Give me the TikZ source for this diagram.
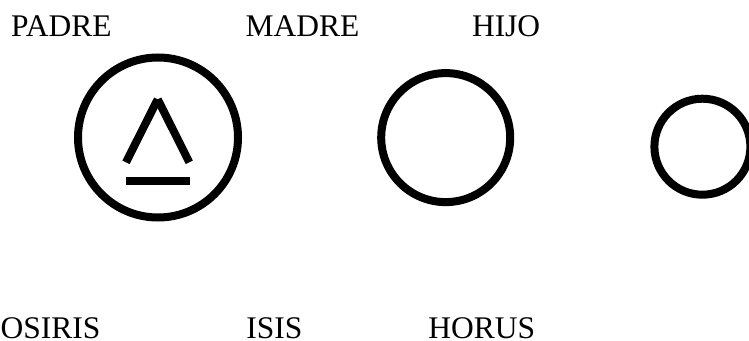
\documentclass[tikz,border=0pt]{standalone}
\usepackage{fontspec}
\setmainfont{Liberation Serif}
\begin{document}
\begin{tikzpicture}[x=1pt,y=-1pt,
  lbl/.style={anchor=base west,inner sep=0pt,outer sep=0pt,text depth=0pt,font=\fontsize{31.5}{37}\selectfont},
  ring/.style={circle,draw=black,line width=8pt,inner sep=0pt,outer sep=0pt},
  glyph/.style={draw=black,line width=8pt,line cap=butt}]
\useasboundingbox (0,0) rectangle (749,340);
\clip (0,0) rectangle (749,340);
% top labels
\node[lbl] (padre) at (11.2,36.5) {PADRE};
\node[lbl] (madre) at (245.6,36.5) {MADRE};
\node[lbl] (hijo) at (472,36.5) {HIJO};
% bottom labels
\node[lbl] (osiris) at (0.7,338) {OSIRIS};
\node[lbl] (isis) at (246.4,338) {ISIS};
\node[lbl] (horus) at (428.4,338) {HORUS};
% circles
\node[ring,minimum size=160pt] (c1) at (158,137.5) {};
\node[ring,minimum size=129pt] (c2) at (445.7,137.6) {};
\node[ring,minimum size=96pt] (c3) at (702.4,146.7) {};
% triangle glyph with underline
\coordinate (apex) at (157.7,99.3);
\coordinate (lf) at (126,162.3);
\coordinate (rf) at (189.3,162.3);
\draw[glyph] (lf) -- (apex);
\draw[glyph] (apex) -- (rf);
\coordinate (ul) at (126,180.8);
\coordinate (ur) at (190,180.8);
\draw[glyph] (ul) -- (ur);
\end{tikzpicture}
\end{document}
